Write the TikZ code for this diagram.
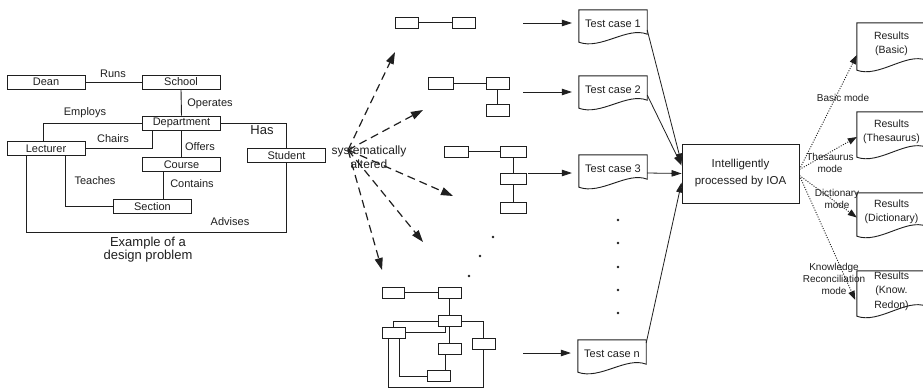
\documentclass[tikz,border=0pt]{standalone}
\usepackage{fontspec}
\setmainfont{Liberation Sans}
\usetikzlibrary{arrows.meta,calc}
\definecolor{ink}{gray}{0.12}
\newcommand\docshape[2]{%
  \draw[ink, line width=0.9pt] (#1.north west) -- (#1.north east) -- ([yshift=#2]#1.south east)
    .. controls ([xshift=-20pt,yshift=#2+8pt]#1.south east) and ([xshift=22pt,yshift=-#2-8pt]#1.south west)
    .. ([yshift=-#2]#1.south west) -- cycle;}
\begin{document}
\begin{tikzpicture}[x=1pt,y=-1pt,
  ebox/.style={draw=ink, line width=0.9pt, minimum width=78pt, minimum height=14pt, inner sep=0pt,
    font=\fontsize{11}{13}\selectfont, text=ink},
  mbox/.style={draw=ink, line width=0.9pt, minimum width=23pt, minimum height=11pt, inner sep=0pt},
  lbl/.style={font=\fontsize{11}{13}\selectfont, text=ink, inner sep=0pt},
  biglbl/.style={font=\fontsize{13}{15}\selectfont, text=ink, inner sep=0pt, align=center},
  small/.style={font=\fontsize{10}{12}\selectfont, text=ink, inner sep=0pt, align=center},
  doc/.style={minimum width=68pt, minimum height=28pt, inner sep=0pt, font=\fontsize{11}{13}\selectfont, text=ink},
  res/.style={minimum width=69pt, inner sep=0pt, align=center, font=\fontsize{10.5}{14.5}\selectfont, text=ink},
  conn/.style={draw=ink, line width=0.9pt},
  dasharrow/.style={draw=ink, line width=1.2pt, dash pattern=on 8pt off 5pt, -{Triangle[length=12pt,width=8pt]}},
  solidarrow/.style={draw=ink, line width=0.8pt, -{Triangle[length=10pt,width=6.5pt]}},
  dotarrow/.style={draw=ink, line width=0.9pt, dash pattern=on 1pt off 1.5pt, -{Triangle[length=9pt,width=6.5pt]}},
  dot/.style={circle, fill=ink, inner sep=0pt, minimum size=2.6pt}
]
\useasboundingbox[fill=white] (0,0) rectangle (923,389);

% ---------- left ER diagram ----------
\node[ebox] (dean) at (46,82) {Dean};
\node[ebox] (school) at (181,82) {School};
\node[ebox] (dept) at (181.5,123) {Department};
\node[ebox] (lect) at (46,148.5) {Lecturer};
\node[ebox] (course) at (181.5,164.5) {Course};
\node[ebox] (section) at (152.5,206.5) {Section};
\node[ebox] (student) at (286.5,155.5) {Student};

\draw[conn] (dean.east) -- (school.west);
\draw[conn] (school.south) -- (dept.north);
\draw[conn] (dept.west) -| ([xshift=-3pt]lect.north);
\coordinate (chx) at ([xshift=-29.5pt]dept.south);
\draw[conn] (lect.east) -| (chx);
\draw[conn] (dept.south) -- (course.north);
\coordinate (cx) at ([xshift=-18.5pt]course.south);
\draw[conn] (cx) -- (cx |- section.north);
\coordinate (tx) at ([xshift=19pt]lect.south);
\draw[conn] (tx) |- (section.west);
\draw[conn] (dept.east) -| (student.north);
\coordinate (ax) at ([xshift=-20pt]lect.south);
\draw[conn] (ax) -- ++(0,76.5) -| (student.south);

\node[lbl] (runs) at (113,74) {Runs};
\node[lbl] (operates) at (210,104) {Operates};
\node[lbl] (employs) at (85,113) {Employs};
\node[lbl] (chairs) at (113,139) {Chairs};
\node[lbl] (offers) at (200,147) {Offers};
\node[lbl] (teaches) at (95,181) {Teaches};
\node[lbl] (contains) at (192,184) {Contains};
\node[biglbl] (has) at (262,130) {Has};
\node[lbl] (advises) at (230,222) {Advises};
\node[biglbl] (example) at (148,249.5) {Example of a\\[-1.5pt]design problem};

% ---------- systematically altered ----------
\node[lbl, align=center, font=\fontsize{12}{14}\selectfont] (sys) at (369,157) {systematically\\altered};
\coordinate (fan) at (348,150);
\coordinate (e1) at (395,52);
\coordinate (e2) at (423,110);
\coordinate (e3) at (453,196);
\coordinate (e4) at (423,242);
\coordinate (e5) at (382,270);
\foreach \e in {e1,e2,e3,e4,e5} \draw[dasharrow] (fan) -- (\e);

% ---------- mini diagrams ----------
\node[mbox] (m1a) at (406.5,22.5) {};
\node[mbox] (m1b) at (463.5,22.5) {};
\draw[conn] (m1a.east) -- (m1b.west);

\node[mbox, minimum width=25pt, minimum height=12pt] (m2a) at (440.5,83) {};
\node[mbox, minimum height=12pt] (m2b) at (497.5,83) {};
\node[mbox, minimum height=12pt] (m2c) at (497.5,110.5) {};
\draw[conn] (m2a.east) -- (m2b.west);
\draw[conn] (m2b.south) -- (m2c.north);

\node[mbox, minimum width=24pt] (m3a) at (456,151.5) {};
\node[mbox, minimum width=26pt] (m3b) at (513,151.5) {};
\node[mbox, minimum width=26pt] (m3c) at (513,179) {};
\node[mbox, minimum width=26pt] (m3d) at (513,207.5) {};
\draw[conn] (m3a.east) -- (m3b.west);
\draw[conn] (m3b.south) -- (m3c.north);
\draw[conn] (m3c.south) -- (m3d.north);

\node[dot] (d1) at (493,237) {};
\node[dot] (d2) at (480,256) {};
\node[dot] (d3) at (469,276) {};

\node[mbox, minimum width=22pt] (na) at (393,292.5) {};
\node[mbox] (nb) at (449.5,292.5) {};
\node[mbox] (nc) at (449.5,321) {};
\node[mbox] (nd) at (393.5,332.5) {};
\node[mbox] (ne) at (449.5,348.5) {};
\node[mbox] (nf) at (483.5,343.5) {};
\node[mbox] (ng) at (438.5,376) {};
\draw[conn] (na.east) -- (nb.west);
\draw[conn] (nb.south) -- (nc.north);
\draw[conn] (nc.west) -| (nd.north);
\coordinate (nchx) at ([xshift=-4.5pt]nc.south);
\draw[conn] (nd.east) -| (nchx);
\draw[conn] (nc.south) -- (ne.north);
\draw[conn] (nc.east) -| (nf.north);
\coordinate (ncx) at ([xshift=-4.5pt]ne.south);
\draw[conn] (ncx) -- (ncx |- ng.north);
\coordinate (ntx) at ([xshift=5.5pt]nd.south);
\draw[conn] (ntx) |- (ng.west);
\coordinate (nax) at ([xshift=-5.5pt]nd.south);
\draw[conn] (nax) -- ++(0,49) -| (nf.south);

% ---------- test cases ----------
\node[doc] (t1) at (613,24) {Test case 1};
\node[doc] (t2) at (613,90) {Test case 2};
\node[doc] (t3) at (613,169) {Test case 3};
\node[doc] (tn) at (612,354) {Test case n};
\docshape{t1}{4pt}
\docshape{t2}{4pt}
\docshape{t3}{4pt}
\docshape{tn}{4pt}
\foreach \y [count=\i] in {220,243,267,290,313} \node[dot] (td\i) at (618,\y) {};

\coordinate (s1) at (523,23);
\coordinate (s2) at (523,92);
\coordinate (s3) at (528,173);
\coordinate (sn) at (523,353);
\draw[solidarrow, shorten >=7pt] (s1) -- (s1 -| t1.west);
\draw[solidarrow, shorten >=7pt] (s2) -- (s2 -| t2.west);
\draw[solidarrow, shorten >=7pt] (s3) -- (s3 -| t3.west);
\draw[solidarrow, shorten >=7pt] (sn) -- (sn -| tn.west);

% ---------- IOA ----------
\node[draw=ink, line width=0.9pt, minimum width=117pt, minimum height=59pt, inner sep=0pt, align=center,
  font=\fontsize{11.5}{17}\selectfont, text=ink] (ioa) at (740.5,173.5) {Intelligently\\processed by IOA};
\draw[solidarrow] ([yshift=-6pt]t1.east) -- ([yshift=10pt]ioa.west);
\draw[solidarrow] ([yshift=-5pt]t2.east) -- ([yshift=8pt]ioa.west);
\draw[solidarrow] ([yshift=-4pt]t3.east) -- (ioa.west);
\draw[solidarrow] ([yshift=11pt]tn.east) -- ([yshift=-9pt]ioa.west);

% ---------- results ----------
\node[res, minimum height=42pt] (rb) at (891.5,44) {Results\\(Basic)};
\node[res, minimum height=40pt] (rt) at (891.5,132) {Results\\(Thesaurus)};
\node[res, minimum height=38pt] (rd) at (891.5,212) {Results\\(Dictionary)};
\node[res, minimum height=40pt] (rk) at (891.5,291) {Results\\(Know.\\Redon)};
\docshape{rb}{5pt}
\docshape{rt}{5pt}
\docshape{rd}{5pt}
\docshape{rk}{5pt}

\draw[dotarrow] ([yshift=4pt]ioa.east) -- ([yshift=-11pt]rb.west);
\draw[dotarrow] ([yshift=4pt]ioa.east) -- ([yshift=-5pt]rt.west);
\draw[dotarrow] ([yshift=-2pt]ioa.east) -- ([yshift=-5.5pt]rd.west);
\draw[dotarrow, shorten >=4pt] ([yshift=-2pt]ioa.east) -- ([yshift=-12.5pt]rk.west);

\node[small] (mb) at (843,98) {Basic mode};
\node[small] (mt) at (830,162.5) {Thesaurus\\mode};
\node[small] (md) at (837,199) {Dictionary\\mode};
\node[small] (mk) at (834,278.5) {Knowledge\\Reconciliation\\mode};
\end{tikzpicture}
\end{document}
